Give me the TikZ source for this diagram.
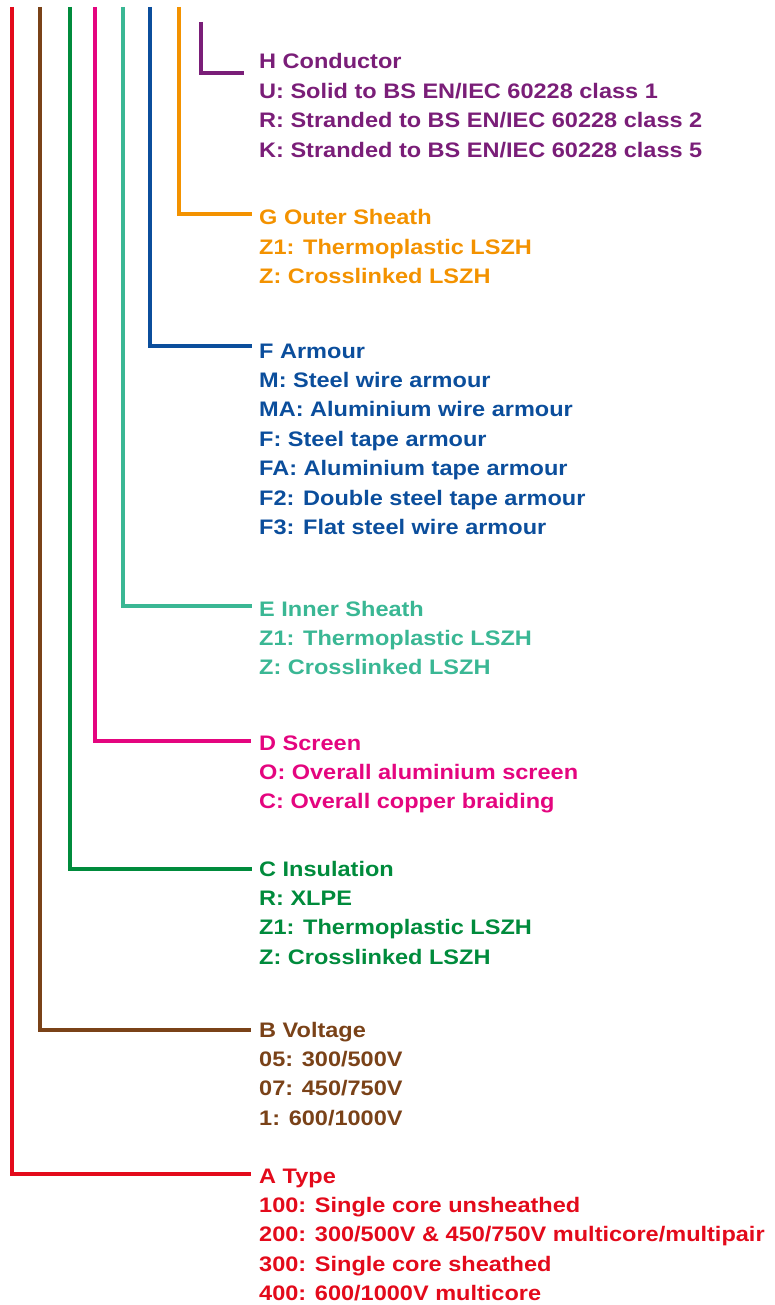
\documentclass[tikz,border=0pt]{standalone}
\usepackage{fontspec}
\setmainfont[FakeStretch=1.12]{Liberation Sans}
\definecolor{cA}{HTML}{E30A1B}
\definecolor{cB}{HTML}{7A4218}
\definecolor{cC}{HTML}{008B3C}
\definecolor{cD}{HTML}{E4057F}
\definecolor{cE}{HTML}{3AB794}
\definecolor{cF}{HTML}{0B4E9C}
\definecolor{cG}{HTML}{F39200}
\definecolor{cH}{HTML}{7A1E78}
\tikzset{
  txt/.style={anchor=base west, inner sep=0pt, font=\fontsize{21}{25}\selectfont\bfseries},
  lead/.style={line width=3.2pt, line cap=butt, line join=miter},
}
\begin{document}
\begin{tikzpicture}[x=1pt,y=-1pt]
\useasboundingbox (0,0) rectangle (775,1305);
% H
\node[txt, text=cH] (H0) at (259,69) {H Conductor};
\node[txt, text=cH] (H1) at (259,98.4) {U: Solid to BS EN/IEC 60228 class 1};
\node[txt, text=cH] (H2) at (259,127.8) {R: Stranded to BS EN/IEC 60228 class 2};
\node[txt, text=cH] (H3) at (259,157.2) {K: Stranded to BS EN/IEC 60228 class 5};
% G
\node[txt, text=cG] (G0) at (259,225) {G Outer Sheath};
\node[txt, text=cG] (G1) at (259,254.4) {Z1: Thermoplastic LSZH};
\node[txt, text=cG] (G2) at (259,283.8) {Z: Crosslinked LSZH};
% F
\node[txt, text=cF] (F0) at (259,358) {F Armour};
\node[txt, text=cF] (F1) at (259,387.4) {M: Steel wire armour};
\node[txt, text=cF] (F2) at (259,416.8) {MA: Aluminium wire armour};
\node[txt, text=cF] (F3) at (259,446.2) {F: Steel tape armour};
\node[txt, text=cF] (F4) at (259,475.6) {FA: Aluminium tape armour};
\node[txt, text=cF] (F5) at (259,505) {F2: Double steel tape armour};
\node[txt, text=cF] (F6) at (259,534.4) {F3: Flat steel wire armour};
% E
\node[txt, text=cE] (E0) at (259,616) {E Inner Sheath};
\node[txt, text=cE] (E1) at (259,645.4) {Z1: Thermoplastic LSZH};
\node[txt, text=cE] (E2) at (259,674.8) {Z: Crosslinked LSZH};
% D
\node[txt, text=cD] (D0) at (259,750) {D Screen};
\node[txt, text=cD] (D1) at (259,779.4) {O: Overall aluminium screen};
\node[txt, text=cD] (D2) at (259,808.8) {C: Overall copper braiding};
% C
\node[txt, text=cC] (C0) at (259,876) {C Insulation};
\node[txt, text=cC] (C1) at (259,905.4) {R: XLPE};
\node[txt, text=cC] (C2) at (259,934.8) {Z1: Thermoplastic LSZH};
\node[txt, text=cC] (C3) at (259,964.2) {Z: Crosslinked LSZH};
% B
\node[txt, text=cB] (B0) at (259,1037) {B Voltage};
\node[txt, text=cB] (B1) at (259,1066.4) {05: 300/500V};
\node[txt, text=cB] (B2) at (259,1095.8) {07: 450/750V};
\node[txt, text=cB] (B3) at (259,1125.2) {1: 600/1000V};
% A
\node[txt, text=cA] (A0) at (259,1183) {A Type};
\node[txt, text=cA] (A1) at (259,1212.4) {100: Single core unsheathed};
\node[txt, text=cA] (A2) at (259,1241.8) {200: 300/500V \& 450/750V multicore/multipair};
\node[txt, text=cA] (A3) at (259,1271.2) {300: Single core sheathed};
\node[txt, text=cA] (A4) at (259,1300.6) {400: 600/1000V multicore};
% leader coordinates
\coordinate (tA) at (12,7);   \coordinate (eA) at (251,1174);
\coordinate (tB) at (40,7);   \coordinate (eB) at (251,1030);
\coordinate (tC) at (70,7);   \coordinate (eC) at (252,869);
\coordinate (tD) at (95,7);   \coordinate (eD) at (251,741);
\coordinate (tE) at (123,7);  \coordinate (eE) at (252,606);
\coordinate (tF) at (150,7);  \coordinate (eF) at (252,346);
\coordinate (tG) at (179,7);  \coordinate (eG) at (252,214);
\coordinate (tH) at (201,22); \coordinate (eH) at (244,73);
\draw[lead, cA] (tA) |- (eA);
\draw[lead, cB] (tB) |- (eB);
\draw[lead, cC] (tC) |- (eC);
\draw[lead, cD] (tD) |- (eD);
\draw[lead, cE] (tE) |- (eE);
\draw[lead, cF] (tF) |- (eF);
\draw[lead, cG] (tG) |- (eG);
\draw[lead, cH] (tH) |- (eH);
\end{tikzpicture}
\end{document}
